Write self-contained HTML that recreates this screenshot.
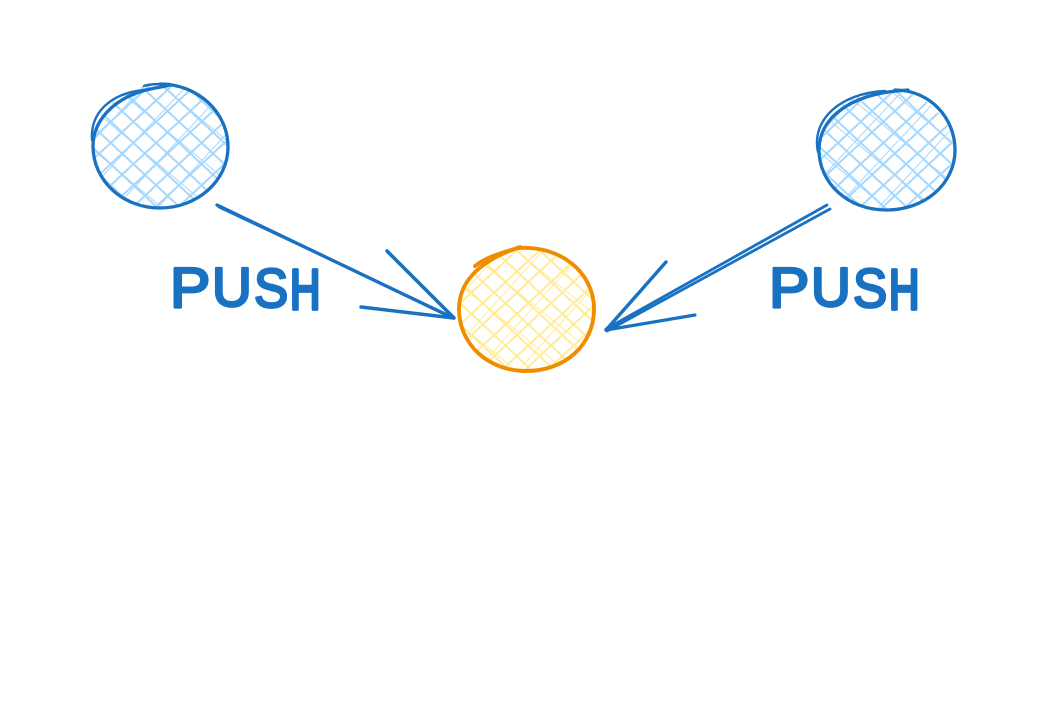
<!DOCTYPE html>
<html>
<head>
<meta charset="utf-8">
<style>
html,body{margin:0;padding:0;background:#fff;width:1053px;height:727px;overflow:hidden}
svg{display:block}
text{font-family:"Liberation Sans",sans-serif;font-size:54px;fill:#1971c2;stroke:#1971c2;stroke-width:2.6;stroke-linejoin:round;stroke-linecap:round}
</style>
</head>
<body>
<svg width="1053" height="727" viewBox="0 0 1053 727" xmlns="http://www.w3.org/2000/svg">
<defs>
<pattern id="ba" width="15.5" height="15.5" patternUnits="userSpaceOnUse" patternTransform="rotate(-43) translate(3 2)"><path d="M0 7.5H15.5" stroke="#a5d8ff" stroke-width="2"/></pattern>
<pattern id="bb" width="15.5" height="15.5" patternUnits="userSpaceOnUse" patternTransform="rotate(43) translate(1 6)"><path d="M0 7.5H15.5" stroke="#a5d8ff" stroke-width="2"/></pattern>
<pattern id="bc" width="31" height="31" patternUnits="userSpaceOnUse" patternTransform="rotate(-47) translate(8 0)"><path d="M0 9H31" stroke="#a5d8ff" stroke-width="1"/></pattern>
<pattern id="bd" width="31" height="31" patternUnits="userSpaceOnUse" patternTransform="rotate(40) translate(2 3)"><path d="M0 21H31" stroke="#a5d8ff" stroke-width="1"/></pattern>
<pattern id="ya" width="15.5" height="15.5" patternUnits="userSpaceOnUse" patternTransform="rotate(-43) translate(6 1)"><path d="M0 7.5H15.5" stroke="#ffec99" stroke-width="2"/></pattern>
<pattern id="yb" width="15.5" height="15.5" patternUnits="userSpaceOnUse" patternTransform="rotate(43) translate(4 9)"><path d="M0 7.5H15.5" stroke="#ffec99" stroke-width="2"/></pattern>
<pattern id="yc" width="31" height="31" patternUnits="userSpaceOnUse" patternTransform="rotate(-48) translate(5 2)"><path d="M0 11H31" stroke="#ffec99" stroke-width="1.1"/></pattern>
<pattern id="yd" width="31" height="31" patternUnits="userSpaceOnUse" patternTransform="rotate(39) translate(0 6)"><path d="M0 19H31" stroke="#ffec99" stroke-width="1.1"/></pattern>
</defs>

<!-- left circle -->
<g>
<ellipse cx="160.500" cy="146" rx="67" ry="62" fill="url(#ba)"/>
<ellipse cx="160.500" cy="146" rx="67" ry="62" fill="url(#bb)"/>
<ellipse cx="160.500" cy="146" rx="67" ry="62" fill="url(#bc)"/>
<ellipse cx="160.500" cy="146" rx="67" ry="62" fill="url(#bd)"/>
</g>
<g fill="none" stroke="#1971c2" stroke-width="3.300" stroke-linecap="round">
<path d="M160 84C197.500 84 228 112 228 147C228 181 197 208 160 208C123 208 93 181 93 146C93 122 112 99 146 90C155 88 162 87 170 85"/>
<path d="M92 140C90 112 112 92 146 90" stroke-width="2.400"/>
<path d="M144 86C150 84 156 84 170 84" stroke-width="2.400"/>
</g>

<!-- right circle -->
<g>
<ellipse cx="886" cy="150" rx="67" ry="60" fill="url(#ba)"/>
<ellipse cx="886" cy="150" rx="67" ry="60" fill="url(#bb)"/>
<ellipse cx="886" cy="150" rx="67" ry="60" fill="url(#bc)"/>
<ellipse cx="886" cy="150" rx="67" ry="60" fill="url(#bd)"/>
</g>
<g fill="none" stroke="#1971c2" stroke-width="3.300" stroke-linecap="round">
<path d="M895 90C930 90 955 118 955 150C955 184 925 210 886 210C848 210 819 183 819 150C819 118 850 93 908 90"/>
<path d="M818 152C811 120 840 93 885 91" stroke-width="2.400"/>
</g>

<!-- center circle -->
<g>
<ellipse cx="526" cy="309" rx="67" ry="61" fill="url(#ya)"/>
<ellipse cx="526" cy="309" rx="67" ry="61" fill="url(#yb)"/>
<ellipse cx="526" cy="309" rx="67" ry="61" fill="url(#yc)"/>
<ellipse cx="526" cy="309" rx="67" ry="61" fill="url(#yd)"/>
</g>
<g fill="none" stroke="#f08c00" stroke-width="3.900" stroke-linecap="round">
<path d="M518 248C560 245 594 272 594 309C594 345 565 371 526 371C489 371 459 345 459 309C459 285 475 262 520 247"/>
<path d="M475 266C485 258 500 253 518 248"/>
</g>

<!-- arrows -->
<g fill="none" stroke="#1971c2" stroke-linecap="round">
<path d="M217 205L453 318" stroke-width="3.300"/>
<path d="M219 207C290 240 380 283 452 317" stroke-width="2.800"/>
<path d="M387 251L453 317" stroke-width="3.600"/>
<path d="M361 307L454 318" stroke-width="3.400"/>
<path d="M827 205L606 329" stroke-width="2.800"/>
<path d="M830 209L607 331" stroke-width="2.800"/>
<path d="M666 262L606 330" stroke-width="3.400"/>
<path d="M695 315L606 330" stroke-width="3.200"/>
</g>

<!-- labels -->
<text transform="translate(170 307) scale(1.120 1.040)">P</text>
<text transform="translate(212 306) scale(1.020 1.020)">U</text>
<text transform="translate(254 307) scale(.950 1.020)">S</text>
<text transform="translate(290 309) scale(.780 1.040)" style="stroke-width:3.600">H</text>
<text transform="translate(769 307) scale(1.120 1.040)">P</text>
<text transform="translate(811 306) scale(1.020 1.020)">U</text>
<text transform="translate(853 307) scale(.950 1.020)">S</text>
<text transform="translate(889 309) scale(.780 1.040)" style="stroke-width:3.600">H</text>
</svg>
</body>
</html>
